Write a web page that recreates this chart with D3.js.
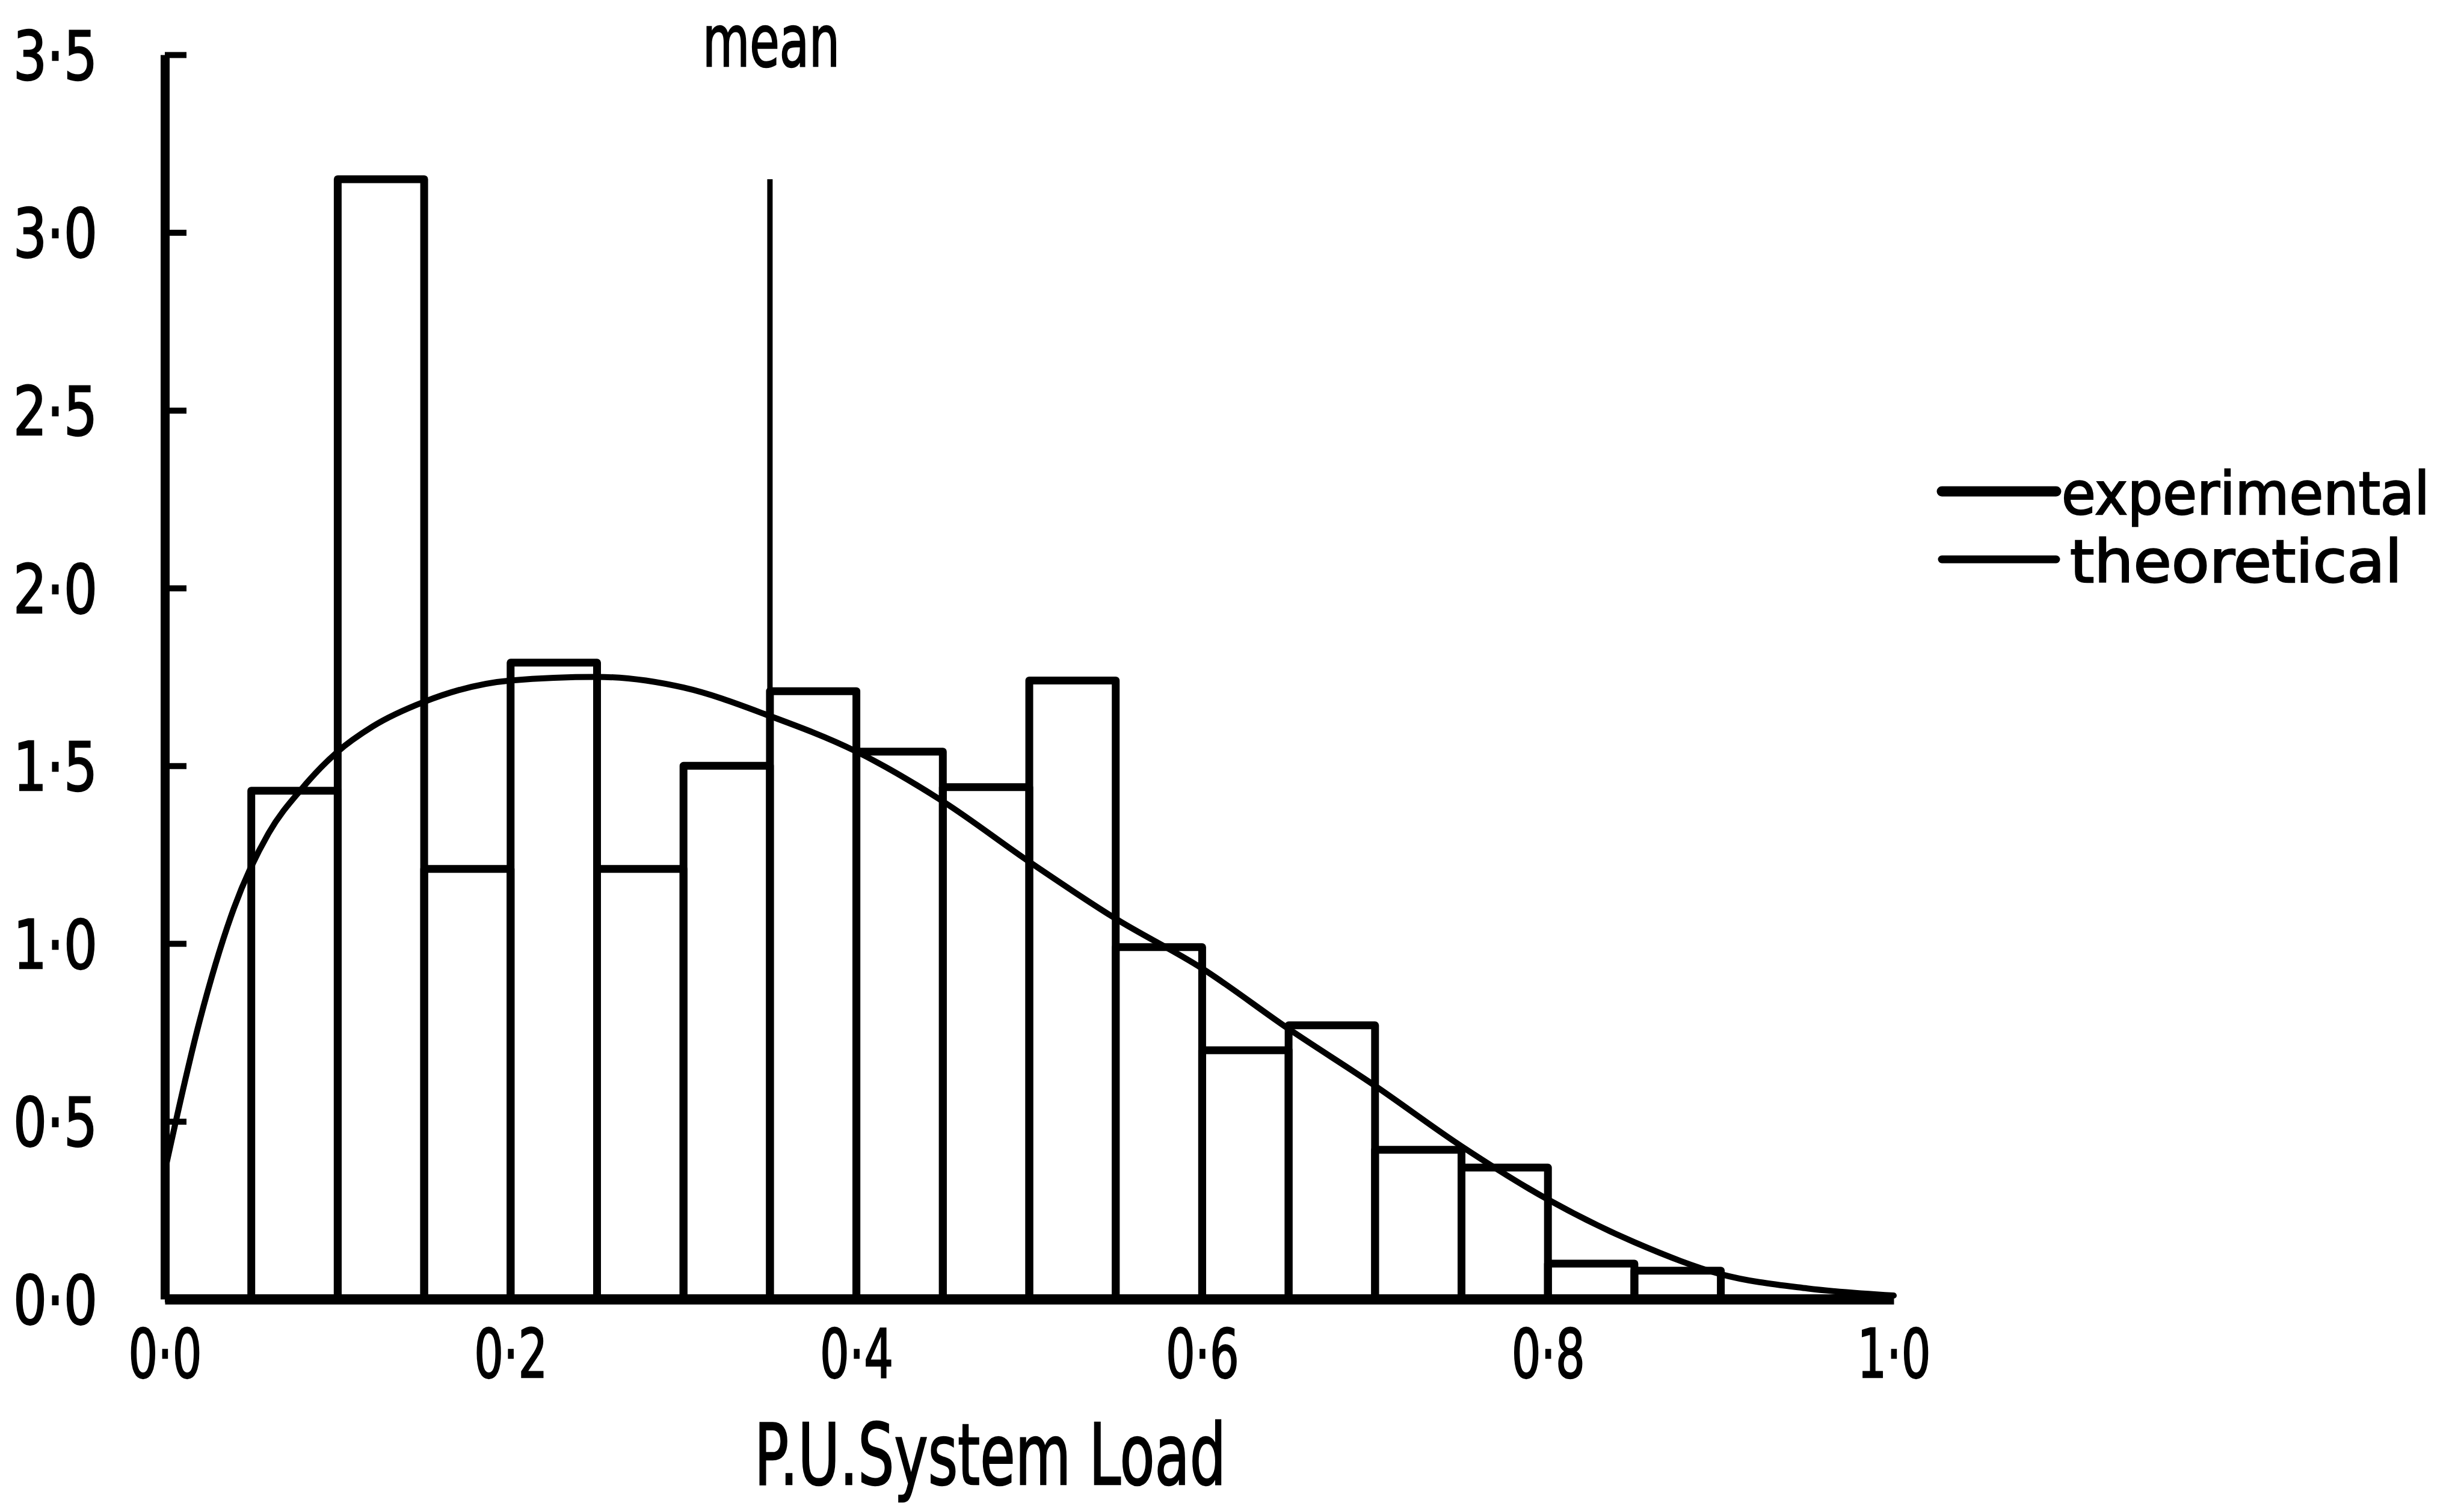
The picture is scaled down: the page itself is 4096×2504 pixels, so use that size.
<!DOCTYPE html>
<html>
<head>
<meta charset="utf-8">
<script src="https://cdn.jsdelivr.net/npm/d3@7"></script>
<style>
  html, body { margin: 0; padding: 0; background: #fff; }
  svg { display: block; }
  text { font-family: 'DejaVu Sans', sans-serif; fill: #000; stroke: #000; stroke-width: 2.5px; }
</style>
</head>
<body>
<svg id="chart" width="4096" height="2504"></svg>
<script>
// ---- data ----
const binLower = [0.05, 0.10, 0.15, 0.20, 0.25, 0.30, 0.35, 0.40, 0.45, 0.50, 0.55, 0.60, 0.65, 0.70, 0.75, 0.80, 0.85];
const binUpper = [0.10, 0.15, 0.20, 0.25, 0.30, 0.35, 0.40, 0.45, 0.50, 0.55, 0.60, 0.65, 0.70, 0.75, 0.80, 0.85, 0.90];
const experimental = [1.43, 3.15, 1.21, 1.79, 1.21, 1.50, 1.71, 1.54, 1.44, 1.74, 0.99, 0.70, 0.77, 0.42, 0.37, 0.10, 0.08];

const theoreticalX = [0.00, 0.02, 0.04, 0.06, 0.08, 0.10, 0.12, 0.15, 0.20, 0.25, 0.30, 0.35, 0.40, 0.45, 0.50, 0.55, 0.60, 0.65, 0.70, 0.75, 0.80, 0.85, 0.90, 0.95, 1.00];
const theoreticalY = [0.36, 0.78, 1.10, 1.31, 1.44, 1.54, 1.61, 1.68, 1.74, 1.75, 1.72, 1.64, 1.54, 1.40, 1.23, 1.07, 0.93, 0.76, 0.60, 0.43, 0.28, 0.16, 0.07, 0.03, 0.01];

const meanValue = 0.35;

const xTickValues = [0.0, 0.2, 0.4, 0.6, 0.8, 1.0];
const xTickLabels = ["0·0", "0·2", "0·4", "0·6", "0·8", "1·0"];
const yTickValues = [0.0, 0.5, 1.0, 1.5, 2.0, 2.5, 3.0, 3.5];
const yTickLabels = ["0·0", "0·5", "1·0", "1·5", "2·0", "2·5", "3·0", "3·5"];

const xTitle = "P.U.System Load";
const meanLabel = "mean";
const legendLabels = ["experimental", "theoretical"];

// ---- layout ----
const svg = d3.select("#chart");
const x = d3.scaleLinear().domain([0, 1]).range([274, 3148]);
const y = d3.scaleLinear().domain([0, 3.5]).range([2160, 91]);

const fs = 112;

// bars
svg.append("g")
  .selectAll("rect")
  .data(experimental)
  .join("rect")
  .attr("x", (d, i) => x(binLower[i]))
  .attr("width", (d, i) => x(binUpper[i]) - x(binLower[i]))
  .attr("y", d => y(d))
  .attr("height", d => y(0) - y(d))
  .attr("fill", "none")
  .attr("stroke", "#000")
  .attr("stroke-width", 13)
  .attr("stroke-linejoin", "round");

// theoretical curve
const line = d3.line()
  .x((d, i) => x(theoreticalX[i]))
  .y(d => y(d))
  .curve(d3.curveMonotoneX);
svg.append("path")
  .datum(theoreticalY)
  .attr("d", line)
  .attr("fill", "none")
  .attr("stroke", "#000")
  .attr("stroke-width", 10)
  .attr("stroke-linecap", "round");

// mean line
svg.append("line")
  .attr("x1", x(meanValue)).attr("x2", x(meanValue))
  .attr("y1", y(3.15)).attr("y2", y(0))
  .attr("stroke", "#000").attr("stroke-width", 9);
svg.append("text")
  .attr("x", x(meanValue) + 2).attr("y", 110)
  .attr("text-anchor", "middle")
  .attr("font-size", 120)
  .attr("textLength", 228)
  .attr("lengthAdjust", "spacingAndGlyphs")
  .text(meanLabel);

// y axis
const yAxis = d3.axisLeft(y)
  .tickValues(yTickValues)
  .tickFormat((d, i) => yTickLabels[i])
  .tickSizeInner(-36)
  .tickSizeOuter(0)
  .tickPadding(112);
const gy = svg.append("g").attr("transform", `translate(${x(0)},0)`).call(yAxis);
gy.select(".domain").attr("stroke", "#000").attr("stroke-width", 15);
gy.selectAll(".tick line").attr("stroke", "#000").attr("stroke-width", 10);
gy.selectAll(".tick text")
  .attr("font-size", fs).attr("font-family", null).attr("dy", "0.36em")
  .attr("textLength", 140).attr("lengthAdjust", "spacingAndGlyphs");

// x axis
const xAxis = d3.axisBottom(x)
  .tickValues(xTickValues)
  .tickFormat((d, i) => xTickLabels[i])
  .tickSize(0)
  .tickPadding(50);
const gx = svg.append("g").attr("transform", `translate(0,${y(0)})`).call(xAxis);
gx.select(".domain").attr("stroke", "#000").attr("stroke-width", 17);
gx.selectAll(".tick text")
  .attr("font-size", fs).attr("font-family", null)
  .attr("textLength", 122).attr("lengthAdjust", "spacingAndGlyphs");

// x title
svg.append("text")
  .attr("x", 1646).attr("y", 2468)
  .attr("text-anchor", "middle")
  .attr("font-size", 140)
  .attr("textLength", 784)
  .attr("lengthAdjust", "spacingAndGlyphs")
  .text(xTitle);

// legend
const legendY = [817, 930];
const legendW = [17, 13];
const legendTextX = [3427, 3441];
const legendTextLen = [612, 552];
const lg = svg.append("g");
lg.selectAll("line")
  .data(legendLabels)
  .join("line")
  .attr("x1", 3228).attr("x2", 3418)
  .attr("y1", (d, i) => legendY[i]).attr("y2", (d, i) => legendY[i])
  .attr("stroke", "#000")
  .attr("stroke-linecap", "round")
  .attr("stroke-width", (d, i) => legendW[i]);
lg.selectAll("text")
  .data(legendLabels)
  .join("text")
  .attr("x", (d, i) => legendTextX[i])
  .attr("y", (d, i) => legendY[i] + 38)
  .attr("font-size", 98)
  .attr("textLength", (d, i) => legendTextLen[i])
  .attr("lengthAdjust", "spacingAndGlyphs")
  .text(d => d);
</script>
</body>
</html>
